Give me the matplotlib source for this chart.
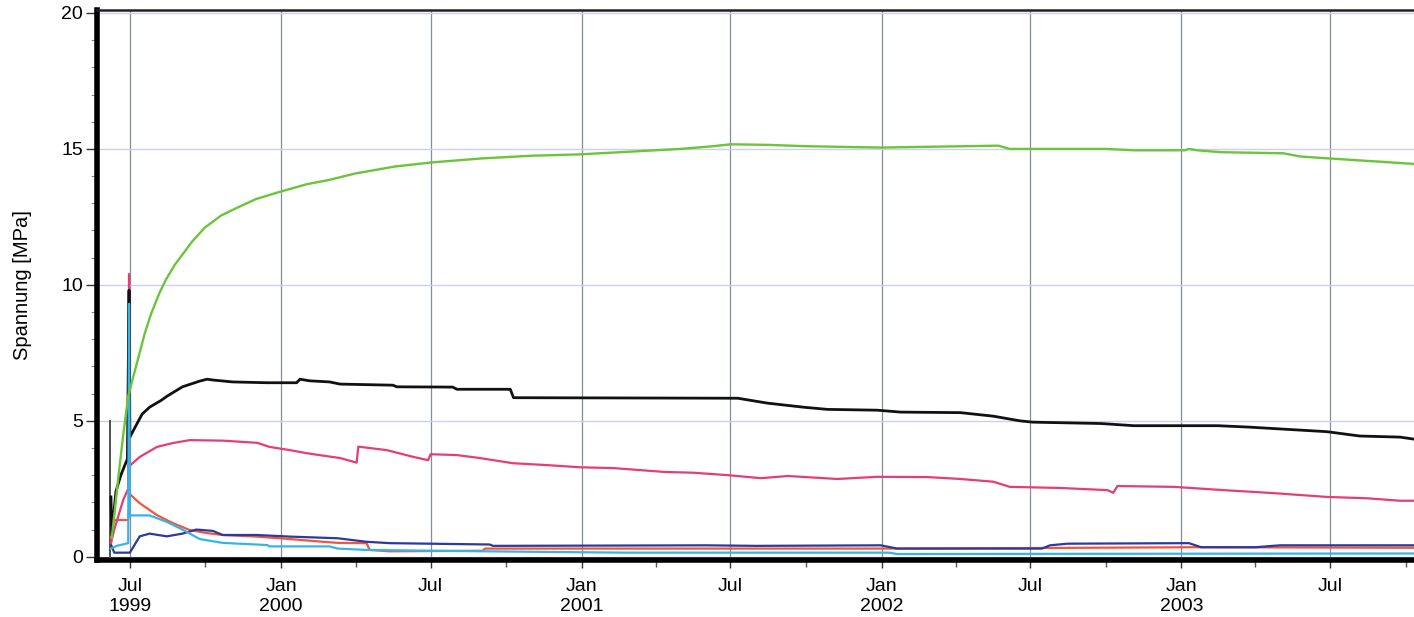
import matplotlib
matplotlib.use("Agg")
import matplotlib.pyplot as plt
import matplotlib.dates as mdates
import matplotlib.ticker as mticker
import pandas as pd

plt.rcParams["font.family"] = ["Liberation Sans", "DejaVu Sans"]

# ---- measured stresses (date, MPa) ----
green_dates = ["1999-06-09", "1999-06-13", "1999-06-18", "1999-06-23", "1999-06-29",
               "1999-07-05", "1999-07-12", "1999-07-19", "1999-07-27", "1999-08-06",
               "1999-08-14", "1999-08-25", "1999-09-15", "1999-09-30", "1999-10-20",
               "1999-11-06", "1999-12-01", "1999-12-28", "2000-02-01", "2000-02-27",
               "2000-04-01", "2000-05-18", "2000-07-01", "2000-09-01", "2000-11-01",
               "2000-12-30", "2001-03-01", "2001-05-01", "2001-06-10", "2001-07-01",
               "2001-08-15", "2001-10-01", "2001-12-31", "2002-03-01", "2002-05-23",
               "2002-06-06", "2002-08-15", "2002-10-01", "2002-11-04", "2003-01-05",
               "2003-01-10", "2003-01-20", "2003-02-18", "2003-05-05", "2003-05-26",
               "2003-07-25", "2003-08-31", "2003-10-10"]
green_vals = [0.7, 1.8, 3.2, 4.5, 5.9,
              6.6, 7.4, 8.2, 8.95, 9.7,
              10.2, 10.75, 11.6, 12.1, 12.55,
              12.8, 13.15, 13.4, 13.7, 13.85,
              14.1, 14.35, 14.5, 14.65, 14.75,
              14.8, 14.9, 15.0, 15.1, 15.17,
              15.15, 15.1, 15.05, 15.08, 15.12,
              15.0, 15.0, 15.0, 14.95, 14.95,
              15.0, 14.95, 14.88, 14.84, 14.72,
              14.6, 14.53, 14.45]

black_dates = ["1999-06-08", "1999-06-09", "1999-06-14", "1999-06-20", "1999-06-28",
               "1999-06-30", "1999-07-01", "1999-07-08", "1999-07-16", "1999-07-25",
               "1999-08-08", "1999-08-15", "1999-09-03", "1999-09-24", "1999-10-03",
               "1999-10-10", "1999-11-03", "1999-12-15", "2000-01-20", "2000-01-24",
               "2000-02-05", "2000-02-29", "2000-03-13", "2000-05-16", "2000-05-21",
               "2000-07-28", "2000-08-02", "2000-10-06", "2000-10-10", "2001-07-10",
               "2001-08-15", "2001-09-28", "2001-10-27", "2001-12-27", "2002-01-24",
               "2002-04-07", "2002-05-17", "2002-06-18", "2002-07-04", "2002-09-25",
               "2002-11-04", "2003-02-14", "2003-03-23", "2003-06-27", "2003-08-06",
               "2003-09-24", "2003-10-10"]
black_vals = [2.2, 0.8, 2.4, 3.0, 3.6,
              9.8, 4.4, 4.8, 5.25, 5.5,
              5.75, 5.9, 6.25, 6.46, 6.53,
              6.5, 6.43, 6.4, 6.4, 6.53,
              6.47, 6.43, 6.35, 6.31, 6.25,
              6.24, 6.16, 6.16, 5.85, 5.83,
              5.65, 5.5, 5.42, 5.39, 5.32,
              5.3, 5.17, 5.0, 4.95, 4.9,
              4.82, 4.82, 4.77, 4.6, 4.44,
              4.4, 4.33]

pink_dates = ["1999-06-08", "1999-06-12", "1999-06-18", "1999-06-23", "1999-06-29",
              "1999-06-30", "1999-07-01", "1999-07-13", "1999-08-03", "1999-08-22",
              "1999-09-12", "1999-10-22", "1999-12-03", "1999-12-18", "2000-01-12",
              "2000-02-01", "2000-02-21", "2000-03-13", "2000-04-02", "2000-04-04",
              "2000-05-09", "2000-06-09", "2000-06-28", "2000-07-01", "2000-08-02",
              "2000-08-30", "2000-10-09", "2000-11-20", "2000-12-30", "2001-02-09",
              "2001-04-11", "2001-05-17", "2001-06-28", "2001-08-07", "2001-09-09",
              "2001-11-08", "2001-12-27", "2002-02-26", "2002-04-07", "2002-05-17",
              "2002-06-06", "2002-08-06", "2002-10-03", "2002-10-10", "2002-10-15",
              "2002-12-23", "2003-02-21", "2003-04-23", "2003-06-27", "2003-08-15",
              "2003-09-24", "2003-10-10"]
pink_vals = [0.5, 1.0, 1.6, 2.1, 2.5,
             10.4, 3.35, 3.67, 4.04, 4.18,
             4.29, 4.27, 4.19, 4.04, 3.92,
             3.81, 3.72, 3.63, 3.46, 4.05,
             3.92, 3.68, 3.55, 3.77, 3.74,
             3.63, 3.44, 3.37, 3.29, 3.26,
             3.12, 3.09, 3.0, 2.89, 2.97,
             2.86, 2.94, 2.93, 2.86, 2.76,
             2.57, 2.53, 2.45, 2.35, 2.6,
             2.57, 2.45, 2.34, 2.2, 2.15,
             2.06, 2.06]

red_dates = ["1999-06-08", "1999-06-10", "1999-06-29", "1999-07-01", "1999-07-13",
             "1999-08-03", "1999-08-22", "1999-09-12", "1999-10-03", "1999-10-22",
             "1999-12-03", "2000-01-12", "2000-02-21", "2000-03-10", "2000-04-14",
             "2000-04-18", "2000-05-12", "2000-09-03", "2000-09-05", "2001-12-31",
             "2002-07-01", "2003-01-20", "2003-10-10"]
red_vals = [0.7, 1.35, 1.35, 2.3, 1.97,
            1.53, 1.24, 0.98, 0.87, 0.8,
            0.74, 0.65, 0.55, 0.51, 0.5,
            0.25, 0.2, 0.22, 0.3, 0.3,
            0.32, 0.35, 0.33]

cyan_dates = ["1999-06-08", "1999-06-15", "1999-06-29", "1999-06-30", "1999-07-01",
              "1999-07-25", "1999-08-15", "1999-09-03", "1999-09-24", "1999-10-22",
              "1999-12-15", "1999-12-18", "2000-02-29", "2000-03-10", "2000-04-14",
              "2000-09-03", "2001-02-21", "2002-01-10", "2002-01-20", "2003-10-10"]
cyan_vals = [0.3, 0.4, 0.5, 9.3, 1.52,
             1.52, 1.28, 1.0, 0.65, 0.51,
             0.43, 0.38, 0.38, 0.3, 0.25,
             0.2, 0.15, 0.15, 0.1, 0.12]

navy_dates = ["1999-06-08", "1999-06-12", "1999-06-29", "1999-07-01", "1999-07-13",
              "1999-07-25", "1999-08-15", "1999-09-03", "1999-09-20", "1999-10-10",
              "1999-10-22", "1999-12-03", "2000-01-12", "2000-03-10", "2000-04-14",
              "2000-05-12", "2000-09-11", "2000-09-15", "2001-06-01", "2001-08-01",
              "2001-12-31", "2002-01-20", "2002-07-15", "2002-07-25", "2002-08-15",
              "2003-01-10", "2003-01-25", "2003-04-01", "2003-05-01", "2003-10-10"]
navy_vals = [0.45, 0.15, 0.15, 0.15, 0.75,
             0.85, 0.75, 0.85, 1.0, 0.95,
             0.8, 0.8, 0.74, 0.68, 0.55,
             0.5, 0.45, 0.4, 0.42, 0.4,
             0.42, 0.3, 0.3, 0.42, 0.48,
             0.5, 0.35, 0.35, 0.42, 0.42]

grey_dates = ["1999-06-07", "1999-06-07"]
grey_vals = [0.0, 5.0]

tick_dates = ["1999-07-01", "2000-01-01", "2000-07-01", "2001-01-01", "2001-07-01",
              "2002-01-01", "2002-07-01", "2003-01-01", "2003-07-01"]
tick_labels = ["Jul\n1999", "Jan\n2000", "Jul", "Jan\n2001", "Jul",
               "Jan\n2002", "Jul", "Jan\n2003", "Jul"]
minor_dates = ["1999-10-01", "2000-04-01", "2000-10-01", "2001-04-01", "2001-10-01",
               "2002-04-01", "2002-10-01", "2003-04-01", "2003-10-01"]

# ---- figure ----
W, H = 1414, 617
fig = plt.figure(figsize=(W / 100, H / 100), dpi=100)
ax = fig.add_axes([97 / W, 57 / H, (W - 97) / W, 550 / H])


def to_dt(lst):
    return pd.to_datetime(lst)


ax.plot(to_dt(grey_dates), grey_vals, color="#505050", lw=1.4, zorder=3)
ax.plot(to_dt(red_dates), red_vals, color="#f2553a", lw=1.6, zorder=3)
ax.plot(to_dt(navy_dates), navy_vals, color="#2b3a9c", lw=1.6, zorder=3)
ax.plot(to_dt(pink_dates), pink_vals, color="#e53d78", lw=1.6, zorder=3)
ax.plot(to_dt(black_dates), black_vals, color="#111111", lw=2.0, zorder=4)
ax.plot(to_dt(cyan_dates), cyan_vals, color="#35b4e6", lw=1.6, zorder=5)
ax.plot(to_dt(green_dates), green_vals, color="#6cc43a", lw=1.7, zorder=6)

# axes ranges
ax.set_xlim(pd.Timestamp("1999-05-22"), pd.Timestamp("2003-10-11"))
ax.set_ylim(-0.12, 20.11)

# x ticks
ax.xaxis.set_major_locator(mticker.FixedLocator(mdates.date2num(to_dt(tick_dates))))
ax.xaxis.set_major_formatter(mticker.FixedFormatter(tick_labels))
ax.xaxis.set_minor_locator(mticker.FixedLocator(mdates.date2num(to_dt(minor_dates))))

# y ticks
ax.yaxis.set_major_locator(mticker.MultipleLocator(5))
ax.yaxis.set_minor_locator(mticker.MultipleLocator(1))

ax.tick_params(axis="x", which="major", length=6, width=1.0, pad=7,
               labelsize=14, color="#333333")
ax.tick_params(axis="x", which="minor", length=5, width=1.0, color="#555555")
ax.tick_params(axis="y", which="major", length=8, width=1.0, pad=2,
               labelsize=14, color="#333333")
ax.tick_params(axis="y", which="minor", length=4, width=0.8, color="#888888")
for lbl in ax.get_xticklabels():
    lbl.set_linespacing(1.25)

# grid
ax.grid(axis="x", which="major", color="#858ca0", lw=0.9)
ax.grid(axis="y", which="major", color="#cdd0e8", lw=1.0)
ax.set_axisbelow(True)

# frame
ax.spines["left"].set_linewidth(4)
ax.spines["left"].set_color("#000000")
ax.spines["bottom"].set_linewidth(4)
ax.spines["bottom"].set_color("#000000")
ax.spines["top"].set_linewidth(1.8)
ax.spines["top"].set_color("#222222")
ax.spines["right"].set_visible(False)

ax.set_ylabel("Spannung [MPa]", fontsize=14.5)
ax.yaxis.label.set_va("center")
ax.yaxis.set_label_coords((23 - 97) / (W - 97), 0.5)

fig.savefig("out.png", dpi=100)
